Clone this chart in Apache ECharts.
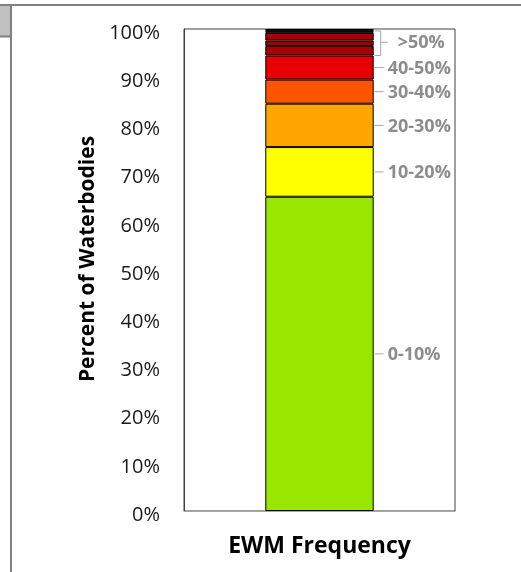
<!DOCTYPE html>
<html>
<head>
<meta charset="utf-8">
<script src="https://cdn.jsdelivr.net/npm/echarts@6/dist/echarts.min.js"></script>
<style>
  html, body { margin: 0; padding: 0; background: #fff; }
  #chart { width: 521px; height: 572px; }
</style>
</head>
<body>
<div id="chart"></div>
<script>
// Share of waterbodies by EWM frequency class (stacked to 100%)
const categories = ['EWM Frequency'];
const classNames = ['0-10%', '10-20%', '20-30%', '30-40%', '40-50%', '50-60%', '60-70%', '70-80%', '80-90%', '90-100%'];
const classValues = [65.2, 10.3, 9.0, 5.0, 5.0, 2.0, 1.1, 1.6, 0.4, 0.4];
const classColors = ['#99e600', '#ffff00', '#ffa500', '#ff5500', '#e60000', '#a80000', '#a80000', '#a80000', '#a80000', '#a80000'];
// Right-hand annotations: label text and the range of classes each one covers
const annotationLabels = ['0-10%', '10-20%', '20-30%', '30-40%', '40-50%', '>50%'];
const annotationFirstClass = [0, 1, 2, 3, 4, 5];
const annotationLastClass = [0, 1, 2, 3, 4, 9];
const yTicks = [0, 10, 20, 30, 40, 50, 60, 70, 80, 90, 100];

const BAR_FRACTION = 0.4;
const FONT = '"Open Sans", "Liberation Sans", sans-serif';

// cumulative bounds of each class within the stack
const lowerBounds = [];
const upperBounds = [];
classValues.reduce((acc, v, i) => {
  lowerBounds[i] = acc;
  upperBounds[i] = acc + v;
  return acc + v;
}, 0);

const annotationData = annotationLabels.map((txt, i) => [
  0,
  lowerBounds[annotationFirstClass[i]],
  upperBounds[annotationLastClass[i]],
  txt,
  annotationLastClass[i] > annotationFirstClass[i] ? 1 : 0
]);

const barSeries = classNames.map((name, i) => ({
  name: name,
  type: 'bar',
  stack: 'total',
  barWidth: (BAR_FRACTION * 100) + '%',
  data: [classValues[i]],
  itemStyle: { color: classColors[i], borderColor: '#000', borderWidth: 1 },
  emphasis: { disabled: true },
  animation: false
}));

const annotationSeries = {
  type: 'custom',
  data: annotationData,
  encode: { x: 0, y: [1, 2] },
  animation: false,
  silent: true,
  z: 5,
  renderItem: function (params, api) {
    const cat = api.value(0);
    const lo = api.value(1);
    const hi = api.value(2);
    const txt = annotationData[params.dataIndex][3];
    const bracket = api.value(4) === 1;
    const band = api.size([1, 0])[0];
    const xr = api.coord([cat, 0])[0] + band * BAR_FRACTION / 2;
    const yLo = api.coord([cat, lo])[1];
    const yHi = api.coord([cat, hi])[1];
    const ym = (yLo + yHi) / 2;
    const lineStyle = { stroke: '#a6a6a6', lineWidth: 1, fill: null };
    const textStyle = {
      text: txt, fill: '#8c8c8c', font: 'bold 18px ' + FONT,
      verticalAlign: 'middle', align: 'left'
    };
    const children = [];
    if (bracket) {
      children.push({
        type: 'polyline',
        shape: { points: [[xr + 1, yHi + 2], [xr + 7, yHi + 2], [xr + 7, yLo], [xr + 1, yLo]] },
        style: lineStyle
      });
      children.push({
        type: 'line',
        shape: { x1: xr + 7, y1: ym, x2: xr + 14, y2: ym },
        style: lineStyle
      });
      children.push({ type: 'text', x: xr + 24, y: ym + 1, style: textStyle });
    } else {
      children.push({
        type: 'line',
        shape: { x1: xr + 1, y1: ym, x2: xr + 10, y2: ym },
        style: lineStyle
      });
      children.push({ type: 'text', x: xr + 14, y: ym + 1, style: textStyle });
    }
    return { type: 'group', children: children };
  }
};

const chart = echarts.init(document.getElementById('chart'), null, { renderer: 'canvas' });
chart.setOption({
  backgroundColor: '#ffffff',
  animation: false,
  textStyle: { fontFamily: FONT },
  grid: {
    left: 184, top: 29, right: 66, bottom: 61,
    show: true, borderColor: '#404040', borderWidth: 1, backgroundColor: '#ffffff'
  },
  xAxis: {
    type: 'category',
    data: categories,
    name: categories[0],
    nameLocation: 'middle',
    nameGap: 24,
    nameTextStyle: { fontSize: 23, fontWeight: 'bold', color: '#000', fontFamily: FONT },
    axisLine: { lineStyle: { color: '#a6a6a6', width: 1 } },
    axisTick: { show: false },
    axisLabel: { show: false }
  },
  yAxis: {
    type: 'value',
    min: yTicks[0],
    max: yTicks[yTicks.length - 1],
    interval: yTicks[1] - yTicks[0],
    name: 'Percent of Waterbodies',
    nameLocation: 'middle',
    nameGap: 82,
    nameTextStyle: {
      fontSize: 21, fontWeight: 'bold', color: '#000', fontFamily: FONT,
      padding: [0, 0, 0, 22]
    },
    axisLine: { show: true, lineStyle: { color: '#404040', width: 1 } },
    axisTick: { show: false },
    splitLine: { show: false },
    axisLabel: {
      formatter: '{value}%', fontSize: 20, color: '#1a1a1a', margin: 24, fontFamily: FONT,
      verticalAlign: 'top', lineHeight: 8
    }
  },
  series: barSeries.concat([annotationSeries]),
  graphic: [
    // worksheet edge around the chart
    { type: 'rect', shape: { x: 0, y: 5, width: 10, height: 31 }, style: { fill: '#c0c0c0' }, silent: true },
    { type: 'line', shape: { x1: 0, y1: 36.5, x2: 10, y2: 36.5 }, style: { stroke: '#808080', lineWidth: 2 }, silent: true },
    { type: 'line', shape: { x1: 0, y1: 5, x2: 521, y2: 5 }, style: { stroke: '#808080', lineWidth: 2 }, silent: true },
    { type: 'line', shape: { x1: 11, y1: 4, x2: 11, y2: 572 }, style: { stroke: '#808080', lineWidth: 2 }, silent: true }
  ]
});
</script>
</body>
</html>
